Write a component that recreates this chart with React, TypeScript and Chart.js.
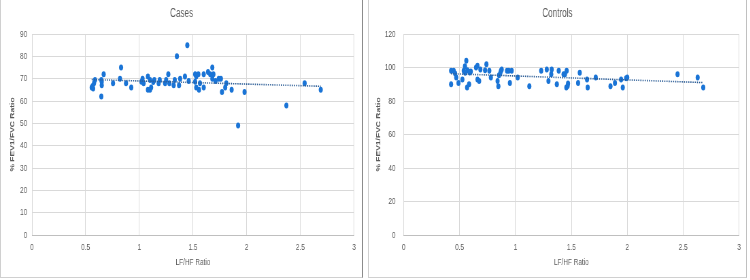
import React, { useEffect, useRef } from "react";
import { Chart, registerables } from "chart.js";

Chart.register(...registerables);

// ---------- data ----------
const casesX = [0.556, 0.565, 0.578, 0.587, 0.57, 0.646, 0.65, 0.65, 0.646, 0.668, 0.755, 0.83, 0.82, 0.876, 0.925,
  1.02, 1.03, 1.04, 1.08, 1.08, 1.1, 1.1, 1.11, 1.13, 1.14, 1.18, 1.19, 1.24, 1.25, 1.27, 1.28, 1.32, 1.33, 1.35,
  1.37, 1.38, 1.425, 1.447, 1.46, 1.52, 1.53, 1.52, 1.53, 1.55, 1.556, 1.565, 1.6, 1.6, 1.64, 1.66, 1.68, 1.69,
  1.68, 1.71, 1.74, 1.76, 1.77, 1.8, 1.81, 1.86, 1.92, 1.98, 2.37, 2.54, 2.69];
const casesY = [66, 66.7, 68, 69.4, 65.6, 62, 67, 68.6, 69.4, 72, 68, 75, 70, 68, 66,
  68.6, 70, 68, 71, 65, 69.4, 65, 66, 68.5, 69.4, 68, 69.4, 68, 69.4, 72, 68, 67, 69.4, 80,
  67, 70, 71, 85, 69, 72, 71, 68.6, 66, 72, 65, 68, 72, 66, 73, 72, 75, 72,
  70, 69, 70, 70, 64, 66, 68, 65, 49, 64, 58, 68, 65];
const casesTrendX = [0.556, 2.69];
const casesTrendY = [69.6, 66.6];

const controlsX = [0.424, 0.424, 0.447, 0.46, 0.47, 0.49, 0.525, 0.537, 0.548, 0.55, 0.56, 0.567, 0.57, 0.585, 0.59,
  0.6, 0.647, 0.66, 0.66, 0.675, 0.686, 0.728, 0.74, 0.766, 0.78, 0.84, 0.847, 0.853, 0.865, 0.87, 0.877, 0.924,
  0.94, 0.95, 0.966, 1.02, 1.124, 1.23, 1.28, 1.295, 1.32, 1.324, 1.37, 1.387, 1.43, 1.443, 1.458, 1.455, 1.467,
  1.47, 1.56, 1.575, 1.64, 1.646, 1.718, 1.85, 1.89, 1.945, 1.96, 1.99, 2.0, 2.45, 2.63, 2.68];
const controlsY = [98, 90, 98, 96.4, 94, 90.8, 92.8, 98, 100.8, 96.8, 104, 88, 98.4, 90, 97,
  97.6, 100, 101, 92.8, 92, 98.8, 98.4, 102, 98, 94, 92, 88.8, 95.4, 96.8, 98, 98.8, 98,
  98, 90.8, 98, 94, 88.8, 98, 98.8, 92, 96, 98.8, 90, 98, 96, 96, 98, 88, 89,
  90.4, 90.8, 96.8, 92.8, 88, 94, 88.8, 90.8, 92.8, 88, 93.6, 94, 96, 94, 88];
const controlsTrendX = [0.424, 2.68];
const controlsTrendY = [96.3, 91.0];

const xTickStep = 0.5;
const casesYMax = 90;
const casesYStep = 10;
const controlsYMax = 120;
const controlsYStep = 20;

// ---------- styling ----------
const SQUISH = 0.68;
const TEXT = "#595959";
const GRID = "#d9d9d9";
const DOT = "#1a74d6";
const TREND = "#2c5d96";
const FONT = "'Liberation Sans', Arial, sans-serif";

type PanelCfg = {
  title: string;
  xs: number[];
  ys: number[];
  tx: number[];
  ty: number[];
  yMax: number;
  yStep: number;
  width: number; // logical canvas width
  yAxisWidth: number;
  rightPad: number;
  yTickPad: number;
  yTitlePad: number;
};

const titlePlugin = (text: string) => ({
  id: "panelTitle",
  afterDraw(chart: any) {
    const ctx = chart.ctx;
    ctx.save();
    ctx.fillStyle = TEXT;
    ctx.font = `12px ${FONT}`;
    ctx.textAlign = "center";
    ctx.textBaseline = "middle";
    ctx.fillText(text, chart.width / 2, 14);
    ctx.restore();
  },
});

function Panel({ cfg }: { cfg: PanelCfg }) {
  const ref = useRef<HTMLCanvasElement | null>(null);
  useEffect(() => {
    if (!ref.current) return;
    const pts = cfg.xs.map((x, i) => ({ x, y: cfg.ys[i] }));
    const trend = cfg.tx.map((x, i) => ({ x, y: cfg.ty[i] }));
    const chart = new Chart(ref.current, {
      type: "scatter",
      data: {
        datasets: [
          {
            type: "line",
            data: trend,
            borderColor: TREND,
            borderWidth: 1.6,
            borderDash: [1.6, 1.6],
            pointRadius: 0,
            fill: false,
            order: 0,
          } as any,
          {
            data: pts,
            backgroundColor: DOT,
            borderColor: DOT,
            pointRadius: 3,
            pointBorderWidth: 0,
            order: 1,
          },
        ],
      },
      options: {
        responsive: false,
        animation: false,
        devicePixelRatio: 1,
        layout: { padding: { left: 0, right: cfg.rightPad, top: 34, bottom: 0 } },
        plugins: { legend: { display: false }, tooltip: { enabled: false }, title: { display: false } },
        scales: {
          x: {
            type: "linear",
            min: 0,
            max: 3,
            ticks: {
              stepSize: xTickStep,
              color: TEXT,
              padding: 7,
              font: { size: 9.5, family: FONT },
              callback: (v: any) => String(Number(v)),
            },
            grid: { color: GRID, lineWidth: 1, drawTicks: false },
            border: { display: true, color: "#bfbfbf" },
            title: {
              display: true,
              text: "LF/HF Ratio",
              color: TEXT,
              font: { size: 9.5, family: FONT },
              padding: { top: 0, bottom: 10.3 },
            },
            afterFit: (s: any) => {
              s.height = 43;
            },
          },
          y: {
            type: "linear",
            min: 0,
            max: cfg.yMax,
            ticks: {
              stepSize: cfg.yStep,
              color: TEXT,
              padding: cfg.yTickPad,
              font: { size: 9.5, family: FONT },
              callback: (v: any) => String(Number(v)),
            },
            grid: { color: GRID, lineWidth: 1, drawTicks: false },
            border: { display: false },
            title: {
              display: true,
              text: "% FEV1/FVC Ratio",
              color: TEXT,
              font: { size: 8.5, family: FONT, weight: "bold" },
              padding: { top: cfg.yTitlePad, bottom: 0 },
            },
            afterFit: (s: any) => {
              s.width = cfg.yAxisWidth;
            },
          },
        },
      } as any,
      plugins: [titlePlugin(cfg.title)],
    });
    return () => chart.destroy();
  }, [cfg]);
  return (
    <div
      style={{
        transform: `scaleX(${SQUISH})`,
        transformOrigin: "0 0",
        width: cfg.width,
        height: 278,
      }}
    >
      <canvas ref={ref} width={cfg.width} height={278} style={{ display: "block" }} />
    </div>
  );
}

const casesCfg: PanelCfg = {
  title: "Cases",
  xs: casesX,
  ys: casesY,
  tx: casesTrendX,
  ty: casesTrendY,
  yMax: casesYMax,
  yStep: casesYStep,
  width: 534,
  yAxisWidth: 47,
  rightPad: 13.4,
  yTickPad: 7,
  yTitlePad: 14,
};

const controlsCfg: PanelCfg = {
  title: "Controls",
  xs: controlsX,
  ys: controlsY,
  tx: controlsTrendX,
  ty: controlsTrendY,
  yMax: controlsYMax,
  yStep: controlsYStep,
  width: 557,
  yAxisWidth: 52.5,
  rightPad: 11.4,
  yTickPad: 12,
  yTitlePad: 11,
};

export default function App() {
  useEffect(() => {
    document.body.style.margin = "0";
  }, []);
  return (
    <div
      style={{
        position: "fixed",
        left: 0,
        top: 0,
        width: 750,
        height: 280,
        background: "#fff",
        overflow: "hidden",
      }}
    >
      <div style={{ position: "absolute", left: 0, top: 0, width: 363, height: 278, overflow: "hidden" }}>
        <Panel cfg={casesCfg} />
      </div>
      <div style={{ position: "absolute", left: 368, top: 0, width: 379, height: 278, overflow: "hidden" }}>
        <Panel cfg={controlsCfg} />
      </div>
      <div
        style={{
          position: "absolute",
          left: 0,
          top: 0,
          width: 363,
          height: 278,
          boxSizing: "border-box",
          borderLeft: "1px solid #d0d0d0",
          borderBottom: "1px solid #d0d0d0",
          borderRight: "1px solid #8c8c8c",
          pointerEvents: "none",
        }}
      />
      <div
        style={{
          position: "absolute",
          left: 368,
          top: 0,
          width: 379,
          height: 278,
          boxSizing: "border-box",
          borderLeft: "1px solid #d0d0d0",
          borderBottom: "1px solid #d0d0d0",
          borderRight: "1px solid #c0c0c0",
          pointerEvents: "none",
        }}
      />
    </div>
  );
}
